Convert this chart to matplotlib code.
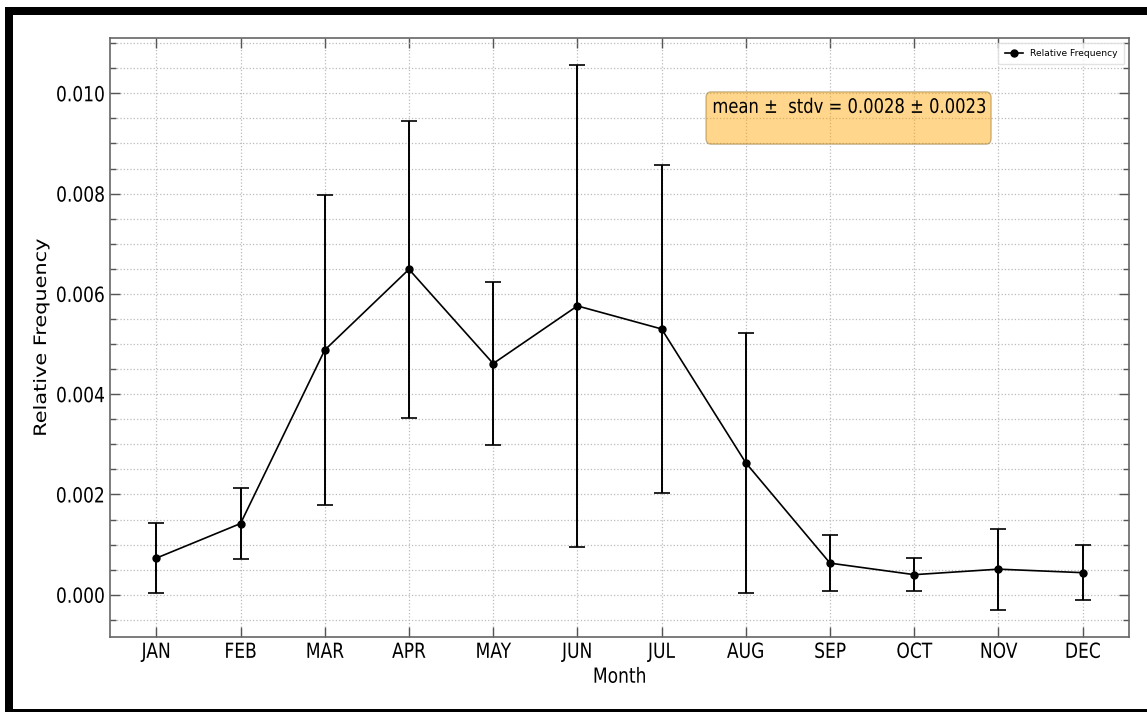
import matplotlib
matplotlib.use("Agg")
import matplotlib.pyplot as plt
from matplotlib.patches import Rectangle
from matplotlib.patheffects import AbstractPathEffect
from matplotlib.transforms import Affine2D
from matplotlib.ticker import MultipleLocator, FormatStrFormatter

months = ["JAN", "FEB", "MAR", "APR", "MAY", "JUN",
          "JUL", "AUG", "SEP", "OCT", "NOV", "DEC"]
rel_freq = [0.00073, 0.00142, 0.00488, 0.00649, 0.00461, 0.00576,
            0.00530, 0.00263, 0.00063, 0.00040, 0.00051, 0.00044]
rel_std = [0.00070, 0.00071, 0.00309, 0.00296, 0.00162, 0.00480,
           0.00328, 0.00259, 0.00056, 0.00033, 0.00081, 0.00055]
summary = "mean \u00b1  stdv = 0.0028 \u00b1 0.0023\n"


class Squeeze(AbstractPathEffect):
    """Narrow glyphs horizontally around a chosen edge of the text."""

    def __init__(self, sx=0.82, anchor="center"):
        super().__init__()
        self.sx = sx
        self.anchor = anchor

    def draw_path(self, renderer, gc, tpath, affine, rgbFace=None):
        if len(tpath.vertices) == 0:
            return
        ext = affine.transform_path(tpath).get_extents()
        if self.anchor == "left":
            cx = ext.x0
        elif self.anchor == "right":
            cx = ext.x1
        else:
            cx = 0.5 * (ext.x0 + ext.x1)
        narrow = Affine2D().translate(-cx, 0).scale(self.sx, 1).translate(cx, 0)
        renderer.draw_path(gc, tpath, affine + narrow, rgbFace)


W, H = 1147, 712
fig = plt.figure(figsize=(W / 100, H / 100), dpi=100)
ax = fig.add_axes([110 / W, 1 - 637 / H, (1129 - 110) / W, (637 - 38) / H])

x = list(range(len(months)))
ax.errorbar(x, rel_freq, yerr=rel_std, fmt="none", ecolor="black",
            elinewidth=1.4, capsize=6, capthick=1.2)
ax.plot(x, rel_freq, color="black", marker="o", markersize=5,
        linewidth=1.2, label="Relative Frequency")

ax.set_xticks(x)
ax.set_xticklabels(months)
ax.yaxis.set_major_locator(MultipleLocator(0.002))
ax.yaxis.set_minor_locator(MultipleLocator(0.0005))
ax.yaxis.set_major_formatter(FormatStrFormatter("%.3f"))

ax.tick_params(axis="both", which="both", direction="in", top=True,
               right=True, colors="#555555", labelcolor="black",
               labelsize=15)
ax.tick_params(which="major", length=7, width=1)
ax.tick_params(which="minor", length=4, width=1)
for s in ax.spines.values():
    s.set_color("#666666")
    s.set_linewidth(1.2)

ax.grid(True, which="major", axis="x", linestyle=":", color="#bbbbbb", linewidth=0.9)
ax.grid(True, which="both", axis="y", linestyle=":", color="#bbbbbb", linewidth=0.9)

xl = ax.set_xlabel("Month", fontsize=15, labelpad=3.5)
yl = ax.set_ylabel("Relative Frequency", fontsize=15)
ax.yaxis.set_label_coords(-0.0579, 0.5)
xl.set_path_effects([Squeeze(anchor="center")])
yl.set_path_effects([Squeeze(anchor="center")])
for lab in ax.get_xticklabels():
    lab.set_path_effects([Squeeze(anchor="center")])
for lab in ax.get_yticklabels():
    lab.set_path_effects([Squeeze(anchor="right")])

ax.legend(loc="upper right", fontsize=6.6, framealpha=0.8, edgecolor="#dddddd",
          borderpad=0.7)

note = ax.text(0.5908, 0.90, summary, transform=ax.transAxes, fontsize=14.4,
               va="top", ha="left", linespacing=1.15,
               bbox=dict(boxstyle="round,pad=0.3", facecolor="orange",
                         alpha=0.45, edgecolor="#8a6a2a"))
note.set_path_effects([Squeeze(anchor="left")])
note.get_bbox_patch().set_path_effects([Squeeze(anchor="left")])


# heavy black frame around the figure
def frame(x0, y0, x1, y1):
    fig.patches.append(Rectangle((x0 / W, 1 - y1 / H), (x1 - x0) / W,
                                 (y1 - y0) / H, transform=fig.transFigure,
                                 facecolor="black", edgecolor="none",
                                 zorder=10))


frame(5, 7, 13, H)
frame(5, 7, W, 15)
frame(5, 709, W, H)

fig.savefig("out.png", dpi=100)
